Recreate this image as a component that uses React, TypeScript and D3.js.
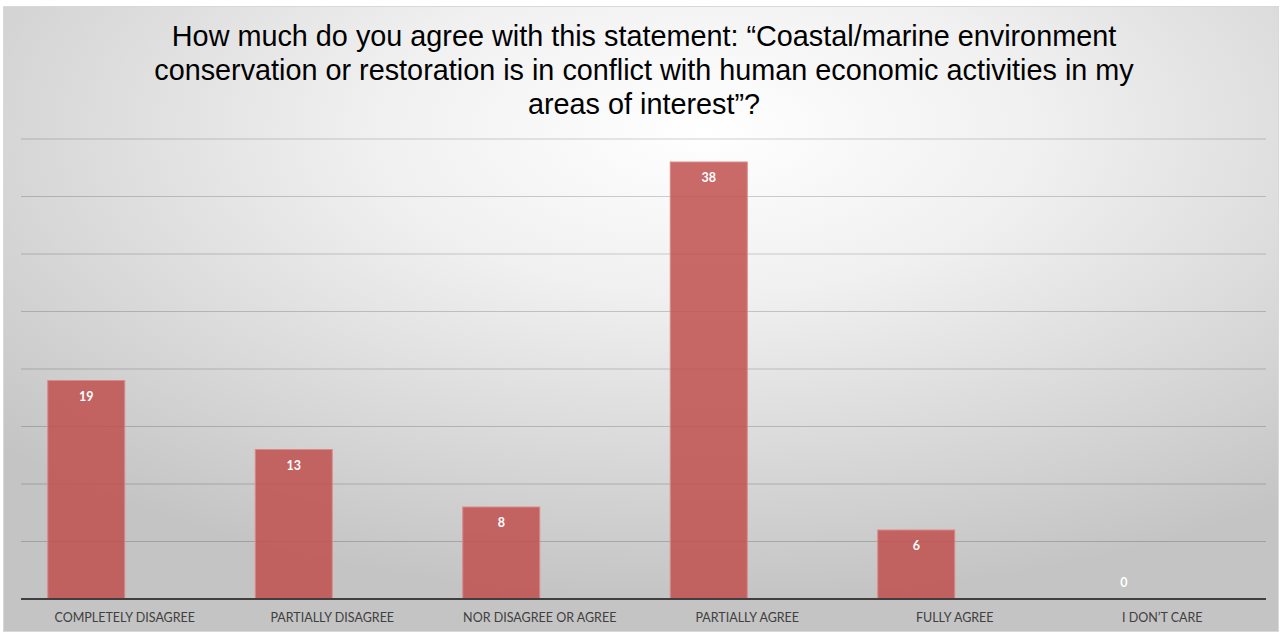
import React from "react";
import * as d3 from "d3";

const categories = [
  "COMPLETELY DISAGREE",
  "PARTIALLY DISAGREE",
  "NOR DISAGREE OR AGREE",
  "PARTIALLY AGREE",
  "FULLY AGREE",
  "I DON\u2019T CARE",
];
const values = [19, 13, 8, 38, 6, 0];
const gridTicks = [0, 5, 10, 15, 20, 25, 30, 35, 40];
const titleLines = [
  "How much do you agree with this statement: \u201cCoastal/marine environment",
  "conservation or restoration is in conflict with human economic activities in my",
  "areas of interest\u201d?",
];

export default function App() {
  const W = 1282, H = 633;
  const left = 21, right = 1266, top = 139, bottom = 599;
  const x = d3.scaleBand<string>().domain(categories).range([left, right]).paddingInner(0).paddingOuter(0);
  const y = d3.scaleLinear().domain([0, 40]).range([bottom, top]);
  const bw = x.bandwidth();
  const barW = bw * 0.371;
  return (
    <svg width={W} height={H} style={{ position: "absolute", left: 0, top: 0 }}>
      <defs>
        <radialGradient id="bg" cx="0.55" cy="0.2" r="0.75" gradientUnits="objectBoundingBox">
          <stop offset="0" stopColor="#ffffff" />
          <stop offset="0.35" stopColor="#f0f0f0" />
          <stop offset="1" stopColor="#c4c4c4" />
        </radialGradient>
      </defs>
      <rect x={0} y={0} width={W} height={H} fill="#ffffff" />
      <rect x={3.5} y={6.5} width={1275} height={625} fill="url(#bg)" stroke="#d9d9d9" strokeWidth={1} />
      {gridTicks.slice(1).map((t) => (
        <line key={t} x1={left} x2={right} y1={y(t)} y2={y(t)} stroke="#000" strokeOpacity={0.18} strokeWidth={1.2} />
      ))}
      {categories.map((c, i) => {
        const cx = (x(c) as number) + bw / 2;
        const v = values[i];
        const ly = v > 0 ? y(v) + 20 : y(0) - 12;
        return (
          <g key={c}>
            {v > 0 && (
              <rect x={cx - barW} y={y(v)} width={barW} height={y(0) - y(v)} fill="#c0504d" fillOpacity={0.85} stroke="#d98a87" strokeWidth={1} />
            )}
            <text x={cx - barW / 2} y={ly} textAnchor="middle" fill="#ffffff" fontFamily="Lato, 'Open Sans', sans-serif" fontWeight="bold" fontSize={12.5}>{v}</text>
            <text x={cx} y={622} textAnchor="middle" fill="#404040" fontFamily="Lato, 'Open Sans', sans-serif" fontSize={12.5}>{c}</text>
          </g>
        );
      })}
      <line x1={left} x2={right} y1={bottom} y2={bottom} stroke="#3f3f3f" strokeWidth={2} />
      {titleLines.map((t, i) => (
        <text key={i} x={644} y={46 + i * 34} textAnchor="middle" fill="#000" fontFamily="'Liberation Sans', Arial, sans-serif" fontSize={28.8}>{t}</text>
      ))}
    </svg>
  );
}
